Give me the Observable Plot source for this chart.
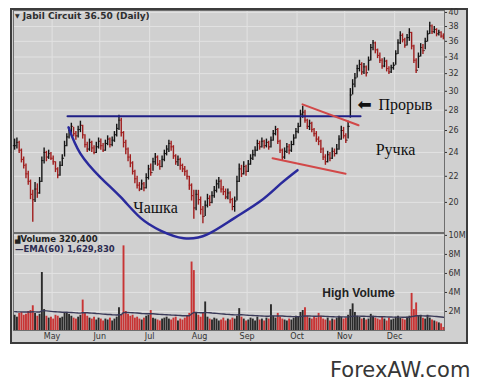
<!DOCTYPE html>
<html><head><meta charset="utf-8">
<script src="https://cdn.jsdelivr.net/npm/d3@7"></script>
<script src="https://cdn.jsdelivr.net/npm/@observablehq/plot@0.6"></script>
<style>
html,body{margin:0;padding:0;background:#fff}
body{width:480px;height:389px;position:relative;overflow:hidden}
#frame{position:absolute;left:10px;top:8px;width:458px;height:336px;box-sizing:border-box;border:2px solid #3c3c3c;background:#d0d0d0}
#price,#vol{position:absolute;left:0}
#price{top:0;z-index:2}
#vol{top:232px;z-index:1}
.lbl{position:absolute;white-space:nowrap;font-family:"DejaVu Sans",sans-serif;font-weight:bold;line-height:1;z-index:3}
</style></head><body>
<div id="frame"></div>
<div id="price"></div>
<div id="vol"></div>
<div class="lbl" style="left:15px;top:12px;font-size:9px;color:#2e2e2e"><span style="font-size:6px;vertical-align:1px">▼</span> Jabil Circuit 36.50 (Daily)</div>
<div class="lbl" style="left:15px;top:235px;font-size:8.5px;line-height:9px;color:#222"><span style="font-size:7px">▟</span>Volume 320,400<br><span style="color:#2c2c50">—EMA(60) 1,629,830</span></div>
<div class="lbl" style="left:330px;top:360px;font-size:21px;font-weight:normal;color:#363636">ForexAW.com</div>
<script>
// ---- data (daily bars, index 0 = first trading day shown) ----
const closes = [
24.6,24.9,24.2,23.4,22.9,22.2,21.6,20.6,20.2,21.0,
20.7,21.6,23.3,24.0,23.6,23.9,23.5,23.2,22.6,22.1,
22.9,23.5,24.6,25.4,26.0,26.4,25.7,25.5,26.1,26.5,
25.6,24.7,24.3,24.9,24.4,24.0,24.5,25.0,24.6,24.2,
24.8,25.2,24.7,25.1,25.6,26.2,27.0,25.8,24.9,24.3,
23.6,23.1,22.4,21.8,21.3,21.0,21.4,21.1,21.9,22.6,
22.3,23.2,23.6,23.0,22.8,23.4,23.9,24.3,24.8,24.5,
23.7,23.2,23.4,22.9,22.6,22.4,22.0,21.3,20.5,19.6,
20.6,20.2,19.5,19.0,19.8,20.3,20.0,20.5,20.9,21.4,
21.6,21.0,20.8,20.4,20.7,20.2,19.7,20.1,21.6,22.6,
22.2,22.8,22.4,23.0,23.5,23.8,24.2,24.8,24.5,25.0,
24.6,24.9,24.5,25.1,25.7,26.1,25.0,24.2,23.6,24.1,
24.5,24.2,24.7,25.3,25.9,26.4,27.6,27.8,27.0,26.4,
26.7,26.1,25.7,25.2,25.0,24.3,23.6,23.2,23.8,23.5,
24.1,23.9,24.3,25.2,26.0,25.5,25.1,26.4,29.6,30.8,
31.5,32.6,33.1,32.2,32.8,32.1,33.6,35.2,35.8,34.9,
34.2,33.6,32.9,33.5,32.6,32.2,32.7,33.0,34.4,35.8,
36.8,36.2,35.5,36.5,37.2,35.4,33.6,32.4,34.1,35.2,
34.8,36.0,37.0,38.1,37.3,37.6,37.0,37.2,36.7,36.5];
const highs = [
25.2,25.3,25.0,24.3,23.6,23.0,22.4,21.7,20.9,21.5,
21.4,21.9,23.6,24.4,24.1,24.2,24.0,23.7,23.2,22.7,
23.2,23.8,25.0,25.7,26.3,26.7,26.3,25.9,26.4,26.9,
26.5,25.6,24.9,25.2,25.0,24.6,24.9,25.3,25.2,24.8,
25.1,25.5,25.3,25.4,25.9,26.6,27.5,27.2,25.9,25.1,
24.4,23.8,23.2,22.5,22.0,21.5,21.7,21.5,22.2,22.9,
23.0,23.5,23.9,23.7,23.3,23.7,24.2,24.6,25.1,25.0,
24.6,23.8,23.7,23.5,23.0,22.8,22.5,22.0,21.4,20.9,
20.9,20.9,20.4,19.7,20.1,20.6,20.5,20.8,21.2,21.7,
21.9,21.7,21.2,21.0,21.0,20.8,20.3,20.4,22.0,23.0,
22.9,23.2,22.9,23.3,23.8,24.2,24.5,25.1,25.0,25.3,
25.1,25.2,25.0,25.4,26.0,26.4,26.2,25.1,24.3,24.4,
24.8,24.7,25.0,25.6,26.2,26.7,28.0,28.4,28.0,27.1,
27.0,26.8,26.2,25.9,25.4,25.1,24.4,23.8,24.1,24.0,
24.4,24.3,24.7,25.5,26.4,26.3,25.7,26.9,30.3,31.3,
32.0,33.0,33.6,33.3,33.2,32.9,34.0,35.6,36.1,35.9,
35.0,34.5,33.8,33.9,33.6,32.8,33.0,33.3,34.8,36.2,
37.3,37.0,36.4,36.9,37.7,37.2,35.5,33.8,34.5,35.7,
35.6,36.4,37.4,38.6,38.2,38.0,37.7,37.5,37.3,37.0];
const lows = [
24.2,24.3,23.9,23.1,22.6,21.8,21.3,20.2,18.6,20.0,
20.3,20.6,21.5,23.0,23.2,23.4,23.3,22.9,22.3,21.8,
22.0,22.8,23.6,24.5,25.2,25.7,25.4,25.1,25.3,25.8,
25.2,24.4,24.0,24.1,24.0,23.8,23.9,24.3,24.2,24.0,
24.1,24.6,24.4,24.5,24.9,25.4,26.0,25.4,24.4,23.8,
23.2,22.7,22.1,21.4,21.0,20.8,20.9,20.8,21.0,21.7,
22.0,22.4,22.9,22.8,22.5,22.7,23.2,23.7,24.0,24.1,
23.4,22.9,22.8,22.5,22.3,22.0,21.7,20.9,20.1,18.8,
19.4,19.8,19.1,18.5,19.0,19.6,19.7,19.9,20.3,20.7,
21.0,20.7,20.5,20.2,20.2,19.9,19.4,19.3,20.1,21.5,
21.9,22.1,22.0,22.3,22.9,23.3,23.6,24.1,24.2,24.4,
24.3,24.4,24.2,24.4,25.0,25.5,24.7,23.9,23.3,23.4,
23.9,23.8,24.0,24.6,25.2,25.7,26.3,27.2,26.7,26.1,
26.0,25.8,25.4,24.9,24.6,23.9,23.3,22.9,23.1,23.2,
23.4,23.6,23.8,24.2,25.1,25.2,24.8,25.2,27.2,29.6,
30.4,31.5,32.2,31.8,31.9,31.6,32.3,33.5,34.8,34.4,
33.8,33.2,32.5,32.7,32.2,31.9,32.0,32.4,33.0,34.3,
35.6,35.8,35.1,35.4,36.0,34.9,33.2,32.0,32.6,34.0,
34.3,34.9,35.9,36.9,36.9,37.0,36.6,36.7,36.4,36.2];
// volume in millions of shares
const volumes = [
1.6,1.4,1.8,1.9,1.6,1.7,2.0,2.1,2.6,1.8,
1.5,1.7,6.1,2.2,1.5,1.3,1.4,1.2,1.6,1.5,
1.3,1.4,1.8,1.9,1.7,1.5,1.3,1.2,1.4,1.6,
3.2,1.8,1.5,1.3,1.2,1.4,1.1,1.3,1.2,1.0,
1.2,1.1,1.3,1.0,1.2,1.4,2.4,1.6,8.9,2.0,
1.7,1.5,1.6,1.3,1.4,1.2,1.1,1.3,1.5,1.6,
2.1,1.3,1.2,1.1,1.0,1.2,1.3,1.4,1.2,1.1,
1.3,1.4,1.0,1.2,1.1,1.3,1.5,1.8,7.2,6.3,
1.9,1.6,1.4,1.8,3.0,1.4,1.2,1.1,1.3,1.2,
1.0,1.1,1.3,1.0,1.2,1.1,1.3,1.2,1.5,2.3,
1.4,1.2,1.0,1.1,1.3,1.2,1.0,1.4,1.1,1.2,
1.0,1.3,1.2,2.7,1.5,1.3,1.8,1.4,1.2,1.1,
1.0,1.2,1.1,1.3,1.5,1.4,1.9,2.1,2.4,1.5,
1.3,1.2,1.4,1.3,1.8,1.5,1.2,1.1,1.3,1.0,
1.2,1.1,1.3,1.5,1.4,1.2,1.3,1.6,2.2,2.8,
1.9,1.5,1.4,1.2,1.3,1.1,1.2,1.7,1.5,1.3,
1.2,1.1,1.4,1.2,1.0,1.3,1.1,1.2,1.4,1.5,
1.3,1.2,1.1,1.4,1.5,3.9,2.2,2.9,1.5,1.6,
1.3,1.2,1.6,1.3,1.1,1.0,0.9,0.8,0.7,0.32];
const emaStart = 2.0; // EMA(60) level at the left edge, millions
const monthNames = ["May","Jun","Jul","Aug","Sep","Oct","Nov","Dec"];
const monthStarts = [17,38,60,82,103,125,146,168];
const priceTicks = [20,22,24,26,28,30,32,34,36,38,40];
const volumeTicks = [2,4,6,8,10];
// annotations (bar index, price)
const resistance = [{i:23.3,p:27.4},{i:152.5,p:27.4}];
const cup = [{i:23.75,p:26.3},{i:29.0,p:23.9},{i:37.9,p:21.9},{i:46.7,p:20.4},{i:55.5,p:18.9},{i:64.3,p:18.05},{i:74.5,p:17.55},{i:85.0,p:17.8},{i:96.5,p:18.85},{i:108.4,p:20.1},{i:117.2,p:21.4},{i:124.7,p:22.5}];
const handleTop = [{i:126.9,p:28.6},{i:151.6,p:26.5}];
const handleBottom = [{i:113.7,p:23.5},{i:145.9,p:22.2}];
const notes = [{i:62.1,p:19.6,text:"Чашка"},{i:167.9,p:24.2,text:"Ручка"},{i:172.3,p:28.6,text:"Прорыв"}];
const arrowNote = [{i:154.3,p:28.6,text:"⬅"}];
const volumeNote = [{i:151.6,v:3.9,text:"High Volume"}];

// ---- build ----
const N = closes.length;
const days = closes.map((c,i)=>({i, close:c, open: i ? closes[i-1] : c, high: highs[i], low: lows[i], vol: volumes[i]*1e6, up: i===0 || c >= closes[i-1]}));
let e = emaStart*1e6; const k = 2/61;
days.forEach(d=>{ e = e + k*(d.vol - e); d.ema = e; });
const xDomain = [-0.5, N-0.5];
const gridX = monthStarts.map(m=>m-0.5);
const monthMap = new Map(gridX.map((g,j)=>[g, monthNames[j]]));
const DOWN = "#a01e1e", UP = "#141414";
const GRID = "#e2e2e2";

const price = Plot.plot({
  width:480, height:236, marginLeft:13, marginRight:36, marginTop:10, marginBottom:4,
  style:{background:"transparent", overflow:"visible", fontFamily:"DejaVu Sans", fontSize:"8px", color:"#333"},
  x:{domain:xDomain, axis:null},
  y:{type:"log", domain:[17.92,40.29], axis:"right", ticks:priceTicks, tickFormat:d=>String(d), tickSize:2, tickPadding:2, label:null},
  marks:[
    Plot.ruleY(priceTicks, {stroke:GRID}),
    Plot.ruleX(gridX, {stroke:GRID}),
    Plot.frame({stroke:"#6e6e6e"}),
    Plot.ruleX(days, {filter:d=>d.up, x:"i", y1:"low", y2:"high", stroke:UP, strokeWidth:1.4}),
    Plot.ruleX(days, {filter:d=>!d.up, x:"i", y1:"low", y2:"high", stroke:DOWN, strokeWidth:1.4}),
    Plot.ruleY(days, {filter:d=>d.up, y:"open", x1:d=>d.i-0.55, x2:"i", stroke:UP}),
    Plot.ruleY(days, {filter:d=>!d.up, y:"open", x1:d=>d.i-0.55, x2:"i", stroke:DOWN}),
    Plot.ruleY(days, {filter:d=>d.up, y:"close", x1:"i", x2:d=>d.i+0.55, stroke:UP}),
    Plot.ruleY(days, {filter:d=>!d.up, y:"close", x1:"i", x2:d=>d.i+0.55, stroke:DOWN}),
    Plot.line(resistance, {x:"i", y:"p", stroke:"#1f1f86", strokeWidth:2}),
    Plot.line(cup, {x:"i", y:"p", curve:"natural", stroke:"#2a2a9c", strokeWidth:2.5}),
    Plot.line(handleTop, {x:"i", y:"p", stroke:"#d24848", strokeWidth:2}),
    Plot.line(handleBottom, {x:"i", y:"p", stroke:"#d24848", strokeWidth:2}),
    Plot.text(notes, {x:"i", y:"p", text:"text", fontFamily:"Liberation Serif", fontSize:16, fill:"#111"}),
    Plot.text(arrowNote, {x:"i", y:"p", text:"text", fontFamily:"DejaVu Sans", fontSize:17, fill:"#111"})
  ]
});
document.getElementById("price").append(price);

const vol = Plot.plot({
  width:480, height:112, marginLeft:13, marginRight:36, marginTop:1, marginBottom:14,
  style:{background:"transparent", overflow:"visible", fontFamily:"DejaVu Sans", fontSize:"8px", color:"#333"},
  x:{domain:xDomain, ticks:gridX, tickFormat:d=>monthMap.get(d), tickSize:0, tickPadding:3, label:null},
  y:{domain:[0,10.2e6], axis:"right", ticks:volumeTicks.map(v=>v*1e6), tickFormat:d=>d/1e6+"M", tickSize:2, tickPadding:2, label:null},
  marks:[
    Plot.ruleY(volumeTicks.map(v=>v*1e6), {stroke:GRID}),
    Plot.ruleX(gridX, {stroke:GRID}),
    Plot.frame({stroke:"#6e6e6e"}),
    Plot.ruleX(days, {filter:d=>d.up, x:"i", y1:0, y2:"vol", stroke:"#2a2a2a", strokeWidth:1.9}),
    Plot.ruleX(days, {filter:d=>!d.up, x:"i", y1:0, y2:"vol", stroke:"#c83434", strokeWidth:1.9}),
    Plot.line(days, {x:"i", y:"ema", stroke:"#3a3a58", strokeWidth:1.4}),
    Plot.text(volumeNote, {x:"i", y:d=>d.v*1e6, text:"text", fontFamily:"Liberation Sans", fontWeight:"bold", fontSize:12, fill:"#222"})
  ]
});
document.getElementById("vol").append(vol);
</script>
</body></html>
